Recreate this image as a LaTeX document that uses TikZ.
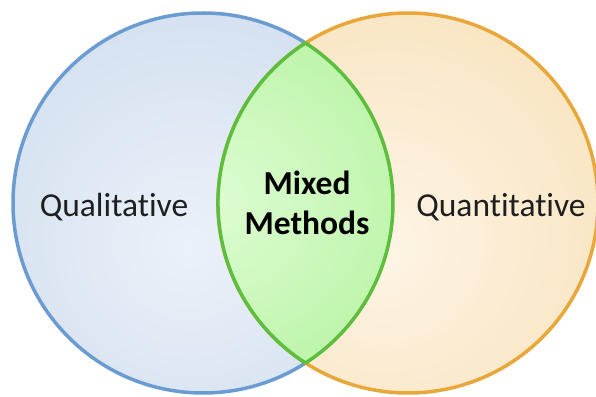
\documentclass[tikz,border=0pt]{standalone}
\usepackage{fontspec}
\setmainfont[Ligatures=NoCommon]{Carlito}
\usetikzlibrary{positioning}

\definecolor{qualiline}{HTML}{6A9CD1}
\definecolor{qualiin}{HTML}{EBF1F9}
\definecolor{qualiout}{HTML}{C6D6EA}
\definecolor{quantiline}{HTML}{E9A73A}
\definecolor{quantiin}{HTML}{FEF5E6}
\definecolor{quantiout}{HTML}{F5DBAC}
\definecolor{mixedline}{HTML}{5DBE3E}
\definecolor{mixedin}{HTML}{DDFDD3}
\definecolor{mixedout}{HTML}{A6EE8C}

% soft fills, light towards the middle
\pgfdeclareradialshading{qualishade}{\pgfpoint{-2bp}{-6bp}}{color(0bp)=(qualiin); color(50bp)=(qualiout); color(75bp)=(qualiout)}
\pgfdeclareradialshading{quantishade}{\pgfpoint{-4bp}{-6bp}}{color(0bp)=(quantiin); color(50bp)=(quantiout); color(75bp)=(quantiout)}
% centred on the overlap, not on the circle that carries it
\pgfdeclareradialshading{mixedshade}{\pgfpoint{-27bp}{0bp}}{color(0bp)=(mixedin); color(40bp)=(mixedout); color(110bp)=(mixedout)}

\begin{document}
\begin{tikzpicture}[x=1pt, y=1pt, node distance=205pt, auto]
        \useasboundingbox (0,0) rectangle (596,396);

        \node[draw=qualiline, circle, line width=3.5pt, minimum size=380pt, shading=qualishade] (quali) at (203,193) {};
        \node[draw=quantiline, circle, line width=3.5pt, minimum size=380pt, shading=quantishade, right of=quali] (quanti) {};

        % overlap of the two sets
        \begin{scope}
            \clip (quali.center) circle (190pt);
            \shade[shading=mixedshade] (quanti.center) circle (190pt);
        \end{scope}
        \draw[mixedline, line width=3.5pt, line join=round] (quali.center) ++(-57.36:190pt)
            arc[start angle=-57.36, end angle=57.36, radius=190pt]
            arc[start angle=122.64, end angle=237.36, radius=190pt] -- cycle;

        \node[font=\fontsize{33.5}{40}\selectfont, text=black!88] (qualitext) at (114,189) {Qualitative};
        \node[font=\fontsize{33.5}{40}\selectfont, text=black!88] (quantitext) at (501,189) {Quantitative};
        \node[font=\fontsize{33.5}{40}\selectfont\bfseries, align=center] (mixedtext) at (307,193) {Mixed\\Methods};
    \end{tikzpicture}
\end{document}
